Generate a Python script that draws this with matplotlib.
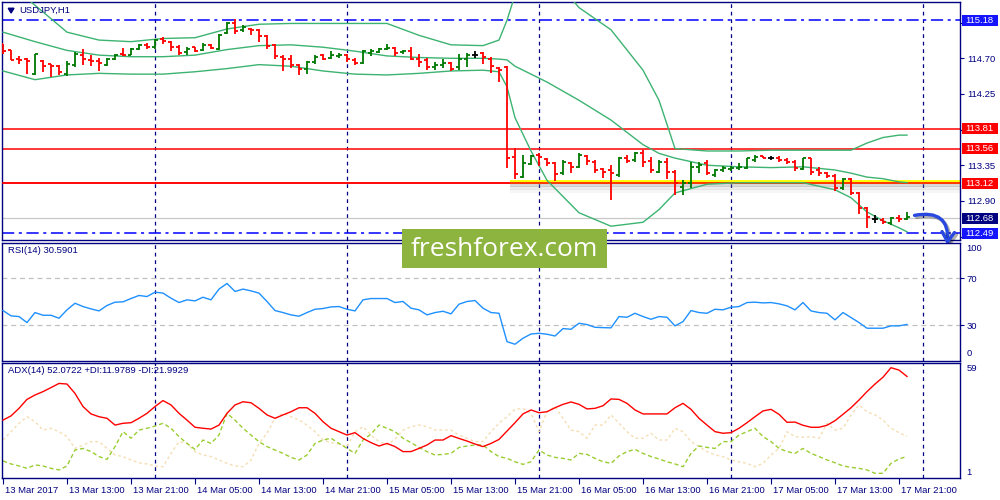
import matplotlib
matplotlib.use('Agg')
import matplotlib.pyplot as plt
import matplotlib.transforms as mtransforms
import matplotlib.patheffects as pe
from matplotlib.patches import Rectangle, Polygon
import numpy as np

plt.rcParams['font.family'] = ['Liberation Sans', 'DejaVu Sans']

NAVY = '#000080'
UP = '#007800'
DOWN = '#ff0000'

# H1 bars, x = hours counted from 13 Mar 2017 00:00
hours = np.arange(5, 119)
opens = [114.877, 114.801, 114.692, 114.687, 114.502, 114.671, 114.624, 114.603, 114.506, 114.612,
         114.746, 114.683, 114.662, 114.612, 114.696, 114.759, 114.746, 114.814, 114.873, 114.843,
         114.940, 114.906, 114.843, 114.780, 114.843, 114.801, 114.873, 114.814, 115.024, 115.146,
         115.054, 115.075, 115.054, 114.982, 114.864, 114.717, 114.696, 114.620, 114.561, 114.654,
         114.738, 114.704, 114.729, 114.742, 114.679, 114.637, 114.771, 114.784, 114.818, 114.835,
         114.780, 114.797, 114.696, 114.679, 114.595, 114.616, 114.645, 114.586, 114.687, 114.742,
         114.763, 114.687, 114.574, 114.586, 113.450, 113.206, 113.366, 113.480, 113.425, 113.383,
         113.248, 113.383, 113.332, 113.467, 113.395, 113.299, 113.290, 113.227, 113.438, 113.416,
         113.509, 113.408, 113.269, 113.395, 113.269, 113.080, 113.122, 113.332, 113.374, 113.227,
         113.290, 113.303, 113.311, 113.311, 113.416, 113.467, 113.437, 113.446, 113.416, 113.387,
         113.303, 113.437, 113.290, 113.248, 113.218, 113.059, 113.176, 112.995, 112.814, 112.671,
         112.659, 112.617, 112.688, 112.671]
highs = [114.885, 114.801, 114.725, 114.704, 114.759, 114.675, 114.633, 114.612, 114.662, 114.780,
         114.814, 114.746, 114.704, 114.704, 114.759, 114.830, 114.830, 114.885, 114.894, 114.948,
         114.969, 114.915, 114.864, 114.843, 114.843, 114.894, 114.885, 115.011, 115.159, 115.192,
         115.117, 115.083, 115.075, 114.999, 114.885, 114.746, 114.738, 114.633, 114.662, 114.738,
         114.759, 114.788, 114.771, 114.755, 114.700, 114.805, 114.814, 114.826, 114.881, 114.848,
         114.805, 114.848, 114.755, 114.700, 114.658, 114.687, 114.658, 114.755, 114.771, 114.797,
         114.784, 114.712, 114.595, 114.603, 113.564, 113.480, 113.480, 113.501, 113.438, 113.395,
         113.416, 113.395, 113.501, 113.480, 113.416, 113.311, 113.353, 113.459, 113.480, 113.522,
         113.543, 113.459, 113.416, 113.438, 113.290, 113.164, 113.395, 113.395, 113.416, 113.303,
         113.345, 113.345, 113.374, 113.446, 113.479, 113.471, 113.471, 113.471, 113.437, 113.416,
         113.446, 113.446, 113.332, 113.269, 113.235, 113.185, 113.185, 113.008, 112.827, 112.722,
         112.688, 112.701, 112.722, 112.764]
lows = [114.750, 114.675, 114.633, 114.498, 114.494, 114.527, 114.460, 114.494, 114.473, 114.591,
        114.612, 114.599, 114.536, 114.603, 114.675, 114.725, 114.738, 114.801, 114.822, 114.822,
        114.885, 114.788, 114.738, 114.746, 114.780, 114.788, 114.814, 114.801, 115.011, 115.011,
        115.032, 114.999, 114.906, 114.822, 114.696, 114.540, 114.578, 114.494, 114.506, 114.624,
        114.675, 114.687, 114.700, 114.658, 114.616, 114.624, 114.729, 114.763, 114.805, 114.729,
        114.755, 114.679, 114.595, 114.553, 114.553, 114.574, 114.544, 114.553, 114.595, 114.700,
        114.628, 114.510, 114.405, 113.311, 113.172, 113.185, 113.353, 113.341, 113.341, 113.156,
        113.227, 113.248, 113.311, 113.353, 113.248, 113.185, 112.911, 113.206, 113.374, 113.395,
        113.332, 113.248, 113.248, 113.172, 112.975, 112.975, 113.059, 113.248, 113.227, 113.206,
        113.269, 113.277, 113.290, 113.303, 113.395, 113.437, 113.416, 113.387, 113.361, 113.277,
        113.290, 113.227, 113.218, 113.185, 113.025, 113.037, 112.974, 112.730, 112.553, 112.617,
        112.604, 112.596, 112.629, 112.659]
closes = [114.788, 114.683, 114.675, 114.671, 114.750, 114.603, 114.607, 114.527, 114.633, 114.750,
          114.696, 114.662, 114.645, 114.696, 114.738, 114.738, 114.822, 114.864, 114.847, 114.927,
          114.915, 114.843, 114.772, 114.822, 114.788, 114.873, 114.830, 114.999, 115.146, 115.041,
          115.096, 115.054, 114.982, 114.856, 114.725, 114.687, 114.620, 114.570, 114.654, 114.717,
          114.696, 114.746, 114.742, 114.687, 114.645, 114.797, 114.797, 114.814, 114.826, 114.771,
          114.793, 114.696, 114.658, 114.586, 114.616, 114.645, 114.561, 114.687, 114.742, 114.742,
          114.712, 114.603, 114.553, 113.446, 113.235, 113.374, 113.467, 113.450, 113.374, 113.240,
          113.395, 113.332, 113.480, 113.404, 113.290, 113.269, 113.248, 113.438, 113.408, 113.501,
          113.395, 113.290, 113.395, 113.269, 113.122, 113.130, 113.332, 113.353, 113.248, 113.290,
          113.311, 113.320, 113.332, 113.437, 113.458, 113.446, 113.437, 113.416, 113.387, 113.320,
          113.437, 113.261, 113.248, 113.218, 113.067, 113.176, 112.995, 112.814, 112.701, 112.671,
          112.629, 112.688, 112.671, 112.700]

# Bollinger bands, read at these hours
bb_hours = [5, 9, 13, 17, 21, 25, 29, 33, 37, 41, 45, 49, 53, 57, 61, 65, 67, 68, 69, 71,
            73, 77, 81, 85, 87, 89, 93, 97, 101, 105, 109, 111, 113, 115, 117, 118]
bb_upper = [115.70, 115.37, 115.03, 114.93, 114.91, 114.95, 114.96, 115.07, 115.13, 115.14,
            115.14, 115.14, 115.14, 114.99, 114.87, 114.86, 114.93, 115.18, 115.50, 115.75,
            115.82, 115.34, 115.06, 114.55, 114.17, 113.56, 113.53, 113.53, 113.54, 113.54,
            113.54, 113.54, 113.63, 113.70, 113.73, 113.73]
bb_middle = [115.03, 114.91, 114.80, 114.74, 114.72, 114.72, 114.74, 114.81, 114.86, 114.87,
             114.84, 114.79, 114.73, 114.71, 114.70, 114.70, 114.69, 114.68, 114.60, 114.50,
             114.40, 114.17, 113.92, 113.61, 113.50, 113.44, 113.35, 113.33, 113.32, 113.33,
             113.29, 113.25, 113.20, 113.18, 113.14, 113.13]
bb_lower = [114.54, 114.43, 114.49, 114.51, 114.50, 114.50, 114.53, 114.57, 114.62, 114.60,
            114.54, 114.50, 114.49, 114.51, 114.54, 114.55, 114.53, 114.34, 113.95, 113.53,
            113.16, 112.75, 112.58, 112.63, 112.79, 113.00, 113.11, 113.13, 113.13, 113.13,
            113.04, 112.94, 112.76, 112.65, 112.56, 112.51]

rsi = [42.4, 37.9, 37.3, 32.2, 40.7, 38.4, 38.4, 35.9, 43.0, 48.6,
       45.8, 43.8, 42.1, 46.7, 49.5, 49.8, 52.6, 55.2, 54.3, 58.0,
       57.2, 52.9, 49.2, 51.5, 50.6, 53.7, 51.5, 60.6, 65.4, 58.6,
       60.6, 59.1, 57.2, 50.1, 42.4, 40.7, 38.7, 37.6, 40.7, 43.5,
       44.1, 45.5, 45.8, 43.5, 42.1, 51.5, 52.6, 52.6, 52.6, 49.2,
       50.1, 44.4, 43.0, 38.7, 40.7, 41.8, 39.6, 47.8, 50.1, 50.9,
       44.4, 40.7, 40.1, 16.0, 13.8, 18.9, 22.5, 23.1, 22.3, 20.8,
       27.1, 26.5, 31.6, 30.5, 28.2, 27.9, 27.7, 37.3, 36.7, 40.1,
       37.3, 35.0, 37.3, 36.7, 29.4, 33.0, 42.4, 40.7, 40.1, 43.5,
       43.0, 45.2, 45.8, 49.2, 49.5, 48.9, 49.2, 48.1, 46.4, 43.0,
       49.2, 42.1, 40.7, 40.1, 34.5, 40.7, 36.5, 32.2, 27.4, 27.4,
       27.4, 29.4, 29.4, 30.6]

adx = [30.2, 32.3, 36.1, 40.6, 42.8, 44.5, 46.5, 48.6, 48.3, 43.6,
       37.0, 33.3, 31.9, 31.1, 27.7, 28.6, 28.9, 31.1, 33.6, 37.0,
       40.0, 37.8, 33.6, 30.2, 26.6, 26.1, 25.7, 27.7, 33.6, 37.8,
       39.4, 38.9, 36.1, 32.8, 31.1, 32.8, 34.4, 36.4, 36.4, 33.6,
       29.4, 26.1, 24.4, 22.7, 23.9, 21.0, 18.9, 17.2, 18.5, 16.9,
       14.4, 14.4, 16.0, 17.7, 20.2, 20.2, 22.4, 21.0, 19.7, 18.2,
       16.9, 18.5, 20.5, 24.7, 28.9, 33.3, 35.3, 33.9, 34.4, 36.4,
       38.1, 39.3, 38.1, 35.8, 36.1, 37.4, 40.8, 40.6, 38.6, 35.3,
       33.3, 33.3, 33.3, 33.3, 36.4, 38.6, 35.6, 31.1, 27.7, 24.4,
       23.6, 23.9, 26.1, 28.9, 31.9, 34.8, 35.6, 33.1, 29.1, 29.2,
       27.6, 26.6, 26.6, 27.6, 29.9, 33.1, 36.4, 40.3, 44.5, 48.3,
       51.7, 56.5, 55.3, 52.1]
plus_di = [9.7, 8.2, 7.2, 6.0, 7.7, 7.2, 6.0, 5.2, 7.2, 15.2,
           16.0, 14.4, 11.9, 10.5, 16.9, 24.4, 21.1, 25.2, 26.1, 27.2,
           28.6, 26.1, 21.9, 18.5, 15.5, 20.2, 18.5, 22.7, 33.6, 30.2,
           26.1, 22.7, 19.4, 16.9, 15.2, 13.5, 11.5, 10.2, 12.7, 18.5,
           20.2, 21.1, 18.5, 16.0, 13.5, 20.2, 23.2, 27.7, 26.1, 24.4,
           21.1, 18.9, 16.5, 14.4, 12.7, 13.0, 13.5, 16.5, 17.2, 17.7,
           17.7, 14.4, 11.9, 11.0, 9.3, 8.0, 9.3, 15.2, 12.7, 11.5,
           11.0, 10.2, 13.5, 13.0, 11.0, 9.3, 8.5, 12.2, 14.4, 15.5,
           13.5, 11.9, 10.7, 9.3, 8.2, 6.8, 13.5, 17.2, 16.5, 16.0,
           19.4, 19.4, 22.7, 24.4, 26.1, 21.9, 19.4, 16.0, 14.4, 13.5,
           16.0, 13.5, 11.9, 10.2, 8.8, 7.2, 6.5, 6.0, 5.2, 3.5,
           3.5, 8.5, 10.7, 12.0]
minus_di = [20.2, 24.4, 28.6, 31.9, 29.4, 25.2, 26.1, 24.4, 21.9, 16.0,
            17.7, 19.4, 19.4, 16.0, 12.7, 11.9, 10.2, 8.8, 8.2, 7.2,
            6.8, 13.5, 19.4, 18.5, 14.4, 12.7, 11.9, 10.2, 8.5, 7.2,
            6.8, 10.2, 18.5, 23.6, 31.1, 33.6, 31.9, 30.2, 27.7, 24.4,
            20.2, 18.9, 18.2, 16.9, 24.4, 26.9, 22.7, 19.4, 17.7, 20.6,
            25.2, 26.9, 27.7, 26.9, 25.2, 25.2, 25.2, 22.7, 21.1, 19.4,
            19.4, 24.4, 28.6, 31.9, 35.6, 36.1, 33.6, 24.4, 34.4, 37.0,
            31.1, 25.2, 24.4, 21.1, 27.7, 27.7, 32.8, 28.6, 24.4, 21.1,
            21.1, 23.6, 20.2, 20.2, 26.1, 24.4, 19.4, 16.9, 14.4, 12.7,
            11.9, 10.2, 9.3, 8.5, 6.8, 8.5, 12.7, 16.0, 24.4, 21.9,
            21.6, 21.9, 21.1, 28.6, 25.2, 26.1, 32.8, 37.8, 34.4, 32.8,
            30.2, 26.1, 23.9, 22.0]

red_levels = [113.81, 113.56, 113.12]
blue_levels = [115.18, 112.49]
bid = 112.68
support_level = 113.12
support_from = 68   # bar where the yellow support line starts

price_ticks = [115.15, 114.70, 114.25, 113.80, 113.35, 112.90, 112.45]
price_labels = ['', '114.70', '114.25', '', '113.35', '112.90', '']   # others sit under boxes
day_starts = [24, 48, 72, 96, 120]
time_ticks = [5, 13, 21, 29, 37, 45, 53, 61, 69, 77, 85, 93, 101, 109, 117]
time_labels = ['13 Mar 2017', '13 Mar 13:00', '13 Mar 21:00', '14 Mar 05:00', '14 Mar 13:00',
               '14 Mar 21:00', '15 Mar 05:00', '15 Mar 13:00', '15 Mar 21:00', '16 Mar 05:00',
               '16 Mar 13:00', '16 Mar 21:00', '17 Mar 05:00', '17 Mar 13:00', '17 Mar 21:00']

FS = 6.8
fig = plt.figure(figsize=(10, 5), dpi=100)


def panel(l, t, r, b):
    return [l / 1000, 1 - b / 500, (r - l) / 1000, (b - t) / 500]


ax = fig.add_axes(panel(2, 2.3, 960, 240))
ax_rsi = fig.add_axes(panel(2, 242.7, 960, 360.5), sharex=ax)
ax_adx = fig.add_axes(panel(2, 362.7, 960, 478.3), sharex=ax)

for a in (ax, ax_rsi, ax_adx):
    for s in a.spines.values():
        s.set_color(NAVY)
        s.set_linewidth(1.0)
    a.yaxis.tick_right()
    a.tick_params(axis='y', colors=NAVY, labelcolor=NAVY, labelsize=FS, length=3, pad=2, width=0.8)
    a.tick_params(axis='x', colors=NAVY, labelcolor=NAVY, labelsize=FS)
    for d in day_starts:
        a.axvline(d, color=NAVY, lw=0.9, ls=(0, (3, 3)), zorder=1)
ax.tick_params(axis='x', bottom=False, labelbottom=False)
ax_rsi.tick_params(axis='x', bottom=False, labelbottom=False)
ax.set_xlim(4.875, 124.625)

# ---- price panel
ax.set_ylim(112.406, 115.407)
ax.set_yticks(price_ticks)
ax.set_yticklabels(price_labels)

for lv in red_levels:
    ax.axhline(lv, color='#ff0000', lw=1.1, zorder=2)
for lv in blue_levels:
    ax.axhline(lv, color='#0000ff', lw=1.1, ls=(0, (8, 3, 2, 3)), zorder=2)
ax.axhline(bid, color='#c8c8c8', lw=0.9, zorder=1.5)

shadow = [pe.SimpleLineShadow(offset=(0, -2), shadow_color='#808080', alpha=0.3),
          pe.SimpleLineShadow(offset=(0, -4), shadow_color='#808080', alpha=0.15),
          pe.SimpleLineShadow(offset=(0, -6), shadow_color='#808080', alpha=0.07),
          pe.Normal()]
ax.hlines(support_level + 0.015, support_from + 0.4, 124.625, color='#ffff00', lw=2.8,
          zorder=2.5, path_effects=shadow)
ax.axhline(support_level, color='#ff0000', lw=1.1, zorder=2.6)

ax.plot(bb_hours, bb_upper, color='#3cb371', lw=1.0, zorder=3)
ax.plot(bb_hours, bb_middle, color='#3cb371', lw=1.0, zorder=3)
ax.plot(bb_hours, bb_lower, color='#3cb371', lw=1.0, zorder=3)

o = np.array(opens)
c = np.array(closes)
colors = np.where(c > o, UP, np.where(c < o, DOWN, 'black'))
ax.vlines(hours, lows, highs, colors=colors, lw=1.3, zorder=4)
ax.hlines(o, hours - 0.4, hours, colors=colors, lw=1.3, zorder=4)
ax.hlines(c, hours, hours + 0.4, colors=colors, lw=1.3, zorder=4)

# price boxes on the axis
tr = mtransforms.blended_transform_factory(ax.transAxes, ax.transData)
boxes = [(115.18, '#1414ff'), (113.81, '#ff0000'), (113.56, '#ff0000'),
         (113.12, '#ff0000'), (bid, NAVY), (112.49, '#1414ff')]
for val, fc in boxes:
    ax.add_patch(Rectangle((1.002, val - 0.07), 0.038, 0.14, transform=tr, fc=fc, ec='none',
                           clip_on=False, zorder=10))
    ax.text(1.0055, val, '%.2f' % val, transform=tr, color='white', fontsize=FS,
            ha='left', va='center', clip_on=False, zorder=11)

ax.text(0.018, 0.965, 'USDJPY,H1', transform=ax.transAxes, color=NAVY, fontsize=6.8,
        ha='left', va='center')
ax.add_patch(Polygon([(0.0065, 0.975), (0.0125, 0.975), (0.0095, 0.955)], closed=True,
                     transform=ax.transAxes, fc=NAVY, ec=NAVY))

ax.annotate('', xy=(123.0, 112.31), xytext=(118.6, 112.71),
            arrowprops=dict(arrowstyle='->,head_length=0.7,head_width=0.45',
                            connectionstyle='arc3,rad=-0.7', color='#2848e0', lw=2.4,
                            path_effects=[pe.SimpleLineShadow(offset=(1.5, -1.5), alpha=0.3),
                                          pe.Normal()]),
            annotation_clip=False, zorder=12)

# ---- RSI panel
ax_rsi.set_ylim(0, 100)
for lv in (30, 70):
    ax_rsi.axhline(lv, color='#c0c0c0', lw=0.9, ls=(0, (4, 3)), zorder=1)
ax_rsi.plot(hours, rsi, color='#1e90ff', lw=1.0, zorder=3)
ax_rsi.set_yticks([30, 70])
ax_rsi.set_yticklabels(['30', '70'])
tr_r = mtransforms.blended_transform_factory(ax_rsi.transAxes, ax_rsi.transData)
ax_rsi.text(1.0065, 99, '100', transform=tr_r, color=NAVY, fontsize=FS, ha='left', va='top')
ax_rsi.text(1.0065, 2, '0', transform=tr_r, color=NAVY, fontsize=FS, ha='left', va='bottom')
ax_rsi.text(0.006, 0.93, 'RSI(14) 30.5901', transform=ax_rsi.transAxes, color=NAVY,
            fontsize=FS, ha='left', va='center')

# ---- ADX panel
ax_adx.set_ylim(1, 59)
ax_adx.plot(hours, minus_di, color='#f5deb3', lw=1.0, ls=(0, (2, 2)), zorder=2)
ax_adx.plot(hours, plus_di, color='#9acd32', lw=1.0, ls=(0, (3, 2)), zorder=2)
ax_adx.plot(hours, adx, color='#ff0000', lw=1.0, zorder=3)
ax_adx.set_yticks([])
tr_a = mtransforms.blended_transform_factory(ax_adx.transAxes, ax_adx.transData)
ax_adx.text(1.0065, 58.5, '59', transform=tr_a, color=NAVY, fontsize=FS, ha='left', va='top')
ax_adx.text(1.0065, 1.8, '1', transform=tr_a, color=NAVY, fontsize=FS, ha='left', va='bottom')
ax_adx.text(0.006, 0.93, 'ADX(14) 52.0722 +DI:11.9789 -DI:21.9929', transform=ax_adx.transAxes,
            color=NAVY, fontsize=FS, ha='left', va='center')

ax_adx.set_xticks(time_ticks)
ax_adx.set_xticklabels(time_labels)
ax_adx.tick_params(axis='x', length=4, pad=1.5, width=0.8)
off = mtransforms.ScaledTranslation(1.5 / 72, 0, fig.dpi_scale_trans)
for lab in ax_adx.get_xticklabels():
    lab.set_ha('left')
    lab.set_transform(lab.get_transform() + off)

# watermark
fig.add_artist(Rectangle((402 / 1000, 1 - 268 / 500), 205 / 1000, 39 / 500,
                         transform=fig.transFigure, fc='#8db43e', ec='none', zorder=20))
fig.text(504 / 1000, 1 - 249 / 500, 'freshforex.com', color='white', fontsize=19,
         family=['Open Sans', 'DejaVu Sans'], ha='center', va='center', zorder=21)

fig.savefig('out.png', dpi=100, facecolor='white')
